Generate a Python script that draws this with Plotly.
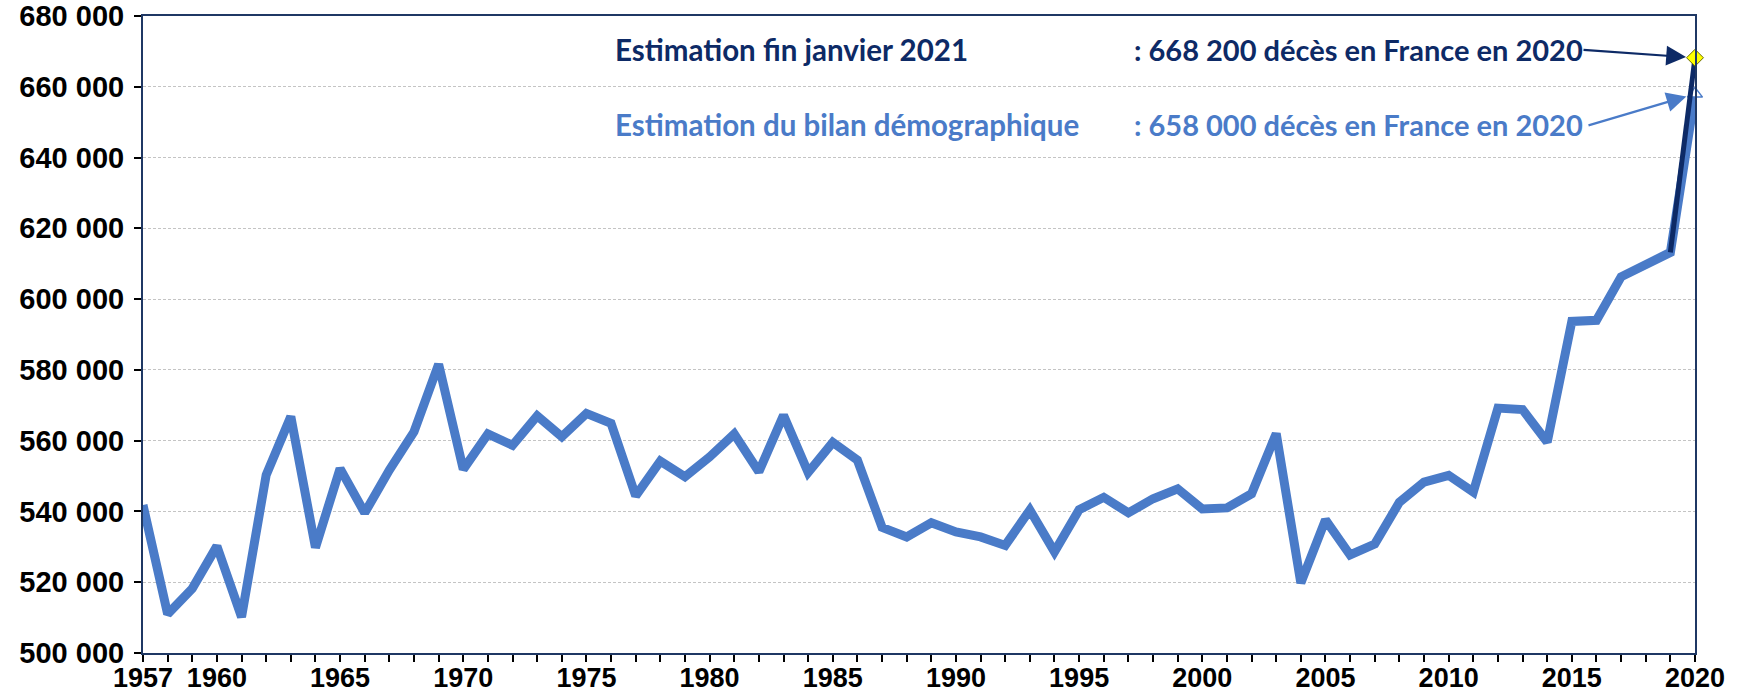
import plotly.graph_objects as go

years = list(range(1957, 2021))
deces = [
    541800, 511000, 518200, 530200, 510200, 550300, 566800, 529800, 552100, 539600,
    551700, 562500, 581600, 551900, 561900, 558700, 567000, 561100, 567700, 564900,
    544400, 554200, 549800, 555400, 561900, 551200, 567200, 551000, 559500, 554500,
    535500, 532800, 536800, 534200, 532800, 530400, 540400, 528600, 540500, 544000,
    539600, 543600, 546400, 540700, 541000, 545000, 562000, 519800, 537600, 527700,
    530800, 542600, 548300, 550200, 545500, 569200, 568800, 559600, 593700, 594000,
    606300, 609600, 613200, 658000,
]
estim_years = [2019, 2020]
estim_values = [613200, 668200]

label_line1 = "Estimation fin janvier 2021"
label_line1_val = ": 668 200 décès en France en 2020"
label_line2 = "Estimation du bilan démographique"
label_line2_val = ": 658 000 décès en France en 2020"

xtick_vals = [1957, 1960, 1965, 1970, 1975, 1980, 1985, 1990, 1995, 2000, 2005, 2010, 2015, 2020]
ytick_vals = list(range(500000, 680001, 20000))

LIGHT = "#4a7bc8"
DARK = "#0d2a66"

W, H = 1739, 698
L, R, T, B = 143, 44, 16, 45

fig = go.Figure()
fig.add_trace(go.Scatter(x=years, y=deces, mode="lines",
                         line=dict(color=LIGHT, width=9), showlegend=False, hoverinfo="skip"))
fig.add_trace(go.Scatter(x=[years[-1]], y=[deces[-1]], mode="markers",
                         marker=dict(symbol="triangle-up", size=13, color="white",
                                     line=dict(color=LIGHT, width=1.5)),
                         cliponaxis=False, showlegend=False, hoverinfo="skip"))
fig.add_trace(go.Scatter(x=estim_years, y=estim_values, mode="lines",
                         line=dict(color=DARK, width=5), showlegend=False, hoverinfo="skip"))
fig.add_trace(go.Scatter(x=[estim_years[-1]], y=[estim_values[-1]], mode="markers",
                         marker=dict(symbol="diamond", size=13, color="#ffff00",
                                     line=dict(color="#6b6b00", width=1)),
                         cliponaxis=False, showlegend=False, hoverinfo="skip"))

def px_x(p):
    return (p - L) / (W - L - R)

def px_y(p):
    return (H - B - p) / (H - T - B)

afont = "Lato, 'Open Sans', sans-serif"
anns = [
    dict(text=label_line1, x=px_x(613), y=px_y(49), color=DARK, size=29.5),
    dict(text=label_line1_val, x=px_x(1132), y=px_y(49), color=DARK, size=29),
    dict(text=label_line2, x=px_x(613), y=px_y(124), color=LIGHT, size=29.5),
    dict(text=label_line2_val, x=px_x(1132), y=px_y(124), color=LIGHT, size=29),
]
for a in anns:
    fig.add_annotation(text=a["text"], x=a["x"], y=a["y"], xref="paper", yref="paper",
                       xanchor="left", yanchor="middle", showarrow=False,
                       font=dict(family=afont, size=a["size"], color=a["color"], weight="bold"))

fig.add_annotation(x=estim_years[-1], y=estim_values[-1], xref="x", yref="y", text="",
                   showarrow=True, ax=-113, ay=-8, arrowhead=2, arrowsize=1.8, arrowwidth=2.2,
                   arrowcolor=DARK, standoff=9)
fig.add_annotation(x=years[-1], y=deces[-1], xref="x", yref="y", text="",
                   showarrow=True, ax=-108, ay=32, arrowhead=2, arrowsize=1.8, arrowwidth=2.2,
                   arrowcolor=LIGHT, standoff=9)

xfont = dict(family="'Liberation Sans', Arial, sans-serif", size=27, color="black", weight="bold")
yfont = dict(family="'Liberation Sans', Arial, sans-serif", size=29, color="black", weight="bold")
fig.update_xaxes(range=[1957, 2020], tickvals=xtick_vals, ticks="outside", ticklen=7,
                 tickwidth=1.5, tickcolor="black", showline=True, linecolor="#1f3864",
                 linewidth=2, mirror=True, showgrid=False, zeroline=False, tickfont=xfont,
                 ticklabelstandoff=-7, automargin=False,
                 minor=dict(tick0=1957, dtick=1, ticks="outside", ticklen=7, tickwidth=1.5,
                            tickcolor="black", showgrid=False))
fig.update_yaxes(range=[500000, 680000], tickvals=ytick_vals, tickformat=",d", ticks="outside",
                 ticklen=7, tickwidth=1.5, tickcolor="black", showline=True, linecolor="#1f3864",
                 linewidth=2, mirror=True, showgrid=True, gridcolor="#c4c4c4", gridwidth=1,
                 griddash="3px,2px", zeroline=False, tickfont=yfont, ticklabelstandoff=4,
                 automargin=False)
fig.update_layout(width=W, height=H, margin=dict(l=L, r=R, t=T, b=B, autoexpand=False),
                  plot_bgcolor="white", paper_bgcolor="white", separators=". ")
fig.write_html("out.html", config={"displayModeBar": False},
               post_script="document.body.style.margin='0';document.body.style.overflow='hidden';")
